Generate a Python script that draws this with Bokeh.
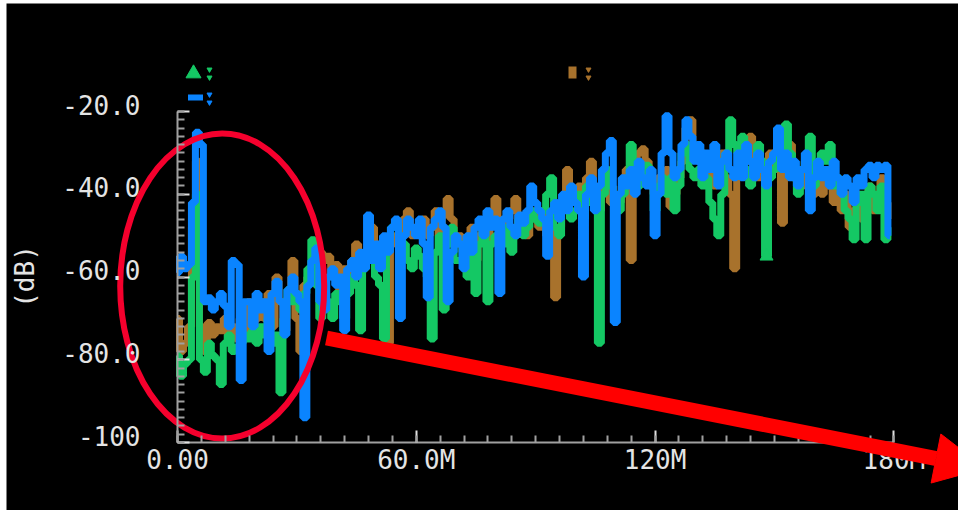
import numpy as np
from bokeh.plotting import figure
from bokeh.models import Range1d, FixedTicker, Arrow, NormalHead, Label
from bokeh.embed import file_html
from bokeh.resources import INLINE

# ---------------- data (dB vs frequency, 1 MHz steps) ----------------
freq_mhz = list(range(0, 180))

blue_db = [
    -59, -55, -58, -57, -42, -25, -28, -66, -65, -68, -66,
    -64, -67, -72, -56, -57, -85, -66, -66, -72, -64,
    -68, -66, -78, -64, -61, -66, -74, -63, -60, -64,
    -66, -94, -62, -56, -53, -66, -68, -60, -58, -62,
    -60, -73, -58, -56, -60, -54, -58, -45, -56, -52,
    -58, -50, -54, -48, -46, -70, -50, -46, -48, -50,
    -46, -52, -65, -48, -46, -44, -48, -66, -54, -50,
    -52, -58, -50, -54, -48, -46, -50, -44, -48, -46,
    -64, -46, -44, -48, -50, -45, -47, -44, -38, -42,
    -44, -46, -55, -44, -42, -46, -40, -44, -38, -42,
    -44, -60, -40, -36, -44, -38, -34, -30, -27, -71,
    -40, -36, -38, -34, -40, -32, -36, -38, -34, -50,
    -40, -30, -21, -30, -36, -34, -28, -22, -26, -32,
    -28, -36, -30, -34, -28, -38, -32, -30, -34, -36,
    -30, -36, -28, -32, -36, -30, -34, -38, -32, -30,
    -24, -34, -30, -36, -32, -38, -34, -30, -44, -36,
    -32, -36, -34, -38, -32, -36, -40, -36, -38, -42,
    -36, -38, -34, -33, -36, -33, -34, -33, -50,
]

brown_db = [
    -70, -78, -76, -72, -48, -32, -72, -78, -71, -74, -72,
    -73, -70, -74, -72, -75, -70, -74, -66, -72, -70,
    -66, -70, -64, -72, -60, -66, -73, -65, -56, -70,
    -78, -62, -60, -58, -56, -54, -56, -55, -60, -57,
    -64, -58, -62, -56, -52, -58, -55, -54, -48, -52,
    -56, -54, -76, -52, -50, -52, -46, -44, -50, -48,
    -50, -46, -50, -48, -44, -50, -45, -41, -46, -52,
    -50, -54, -52, -48, -56, -50, -47, -52, -46, -41,
    -48, -50, -46, -44, -41, -48, -46, -50, -46, -44,
    -48, -44, -50, -46, -65, -48, -44, -34, -40, -42,
    -38, -44, -36, -32, -40, -44, -38, -36, -42, -40,
    -42, -38, -34, -56, -36, -30, -29, -32, -36, -40,
    -36, -38, -34, -43, -40, -36, -32, -24, -22, -30,
    -32, -30, -36, -32, -38, -34, -30, -36, -40, -58,
    -34, -28, -32, -26, -34, -36, -32, -38, -30, -34,
    -32, -47, -30, -28, -36, -34, -38, -32, -36, -40,
    -36, -40, -34, -38, -42, -38, -44, -40, -48, -44,
    -40, -46, -42, -38, -44, -40, -36, -42, -46,
]

green_db = [
    -79, -84, -81, -80, -60, -40, -80, -83, -76, -79, -80,
    -86, -76, -74, -78, -77, -76, -74, -75, -73, -76,
    -72, -74, -70, -76, -74, -88, -70, -63, -66, -64,
    -68, -64, -58, -51, -62, -70, -64, -66, -70, -64,
    -66, -70, -64, -60, -62, -73, -58, -56, -54, -60,
    -62, -75, -52, -48, -47, -50, -52, -56, -58, -53,
    -55, -58, -60, -75, -54, -50, -68, -52, -48, -56,
    -56, -52, -60, -55, -64, -52, -48, -66, -52, -50,
    -50, -52, -48, -54, -50, -46, -50, -48, -44, -46,
    -47, -44, -40, -36, -48, -50, -42, -40, -46, -44,
    -40, -46, -38, -42, -40, -76, -40, -34, -38, -42,
    -44, -40, -36, -28, -34, -38, -36, -33, -38, -44,
    -38, -36, -40, -36, -44, -38, -30, -28, -34, -36,
    -34, -38, -36, -42, -46, -50, -40, -30, -22, -28,
    -30, -26, -34, -38, -36, -28, -32, -55, -36, -34,
    -30, -34, -23, -30, -36, -40, -34, -32, -26, -38,
    -34, -30, -32, -28, -38, -36, -40, -44, -46, -51,
    -42, -40, -51, -38, -40, -44, -38, -51, -48,
]

x_tick_mhz = [0, 60, 120, 180]
x_tick_labels = ["0.00", "60.0M", "120M", "180M"]
y_tick_vals = [-100, -80, -60, -40, -20]
y_tick_labels = ["-100", "-80.0", "-60.0", "-40.0", "-20.0"]
marker_mhz = 148  # green trace marker (triangle)

# ---------------- styling / geometry ----------------
GREEN = "#14c864"
BROWN = "#a8722c"
BLUE = "#0a84ff"
RED = "#ff0000"
ELL_RED = "#f5002d"
TXT = "#e4e4e4"
AX = "#a0a0a0"
FONT = "DejaVu Sans Mono"

MARGIN_L, MARGIN_T = 6, 3           # white strip left / top, as in the screenshot
W, H = 958 - MARGIN_L, 510 - MARGIN_T
AXIS_X, AXIS_Y = 177, 442           # picture position of the axes corner
PX_PER_MHZ = 3.98
PX_PER_DB = 4.1375


def pix(px, py):
    """picture position -> data coordinates"""
    return ((np.asarray(px, dtype=float) - AXIS_X) / PX_PER_MHZ * 1e6,
            -100 + (AXIS_Y - np.asarray(py, dtype=float)) / PX_PER_DB)


x0, y_top = pix(MARGIN_L, MARGIN_T)
x1, y_bot = pix(MARGIN_L + W, MARGIN_T + H)

# the frame fills the whole canvas; axes sit at fixed data locations inside it
p = figure(width=W, height=H,
           x_range=Range1d(float(x0), float(x1)), y_range=Range1d(float(y_bot), float(y_top)),
           output_backend="svg", toolbar_location=None,
           min_border_left=0, min_border_right=0, min_border_top=0, min_border_bottom=0,
           background_fill_color="black", border_fill_color="black",
           outline_line_color=None)
p.margin = (MARGIN_T, 0, 0, MARGIN_L)
p.xgrid.visible = False
p.ygrid.visible = False

x_ticks = [v * 1e6 for v in x_tick_mhz]
p.xaxis.ticker = FixedTicker(ticks=x_ticks,
                             minor_ticks=[m * 1e6 for m in range(0, 181, 6)])
p.xaxis.major_label_overrides = {t: l for t, l in zip(x_ticks, x_tick_labels)}
p.xaxis.bounds = (0, 180e6)
p.xaxis.fixed_location = -100

p.yaxis.ticker = FixedTicker(ticks=y_tick_vals, minor_ticks=list(range(-100, -19, 2)))
p.yaxis.bounds = (-100, -20)
p.yaxis.fixed_location = 0

for ax in (p.xaxis[0], p.yaxis[0]):
    ax.axis_line_color = AX
    ax.axis_line_width = 2
    ax.major_tick_in = 12
    ax.major_tick_out = 0
    ax.minor_tick_in = 7
    ax.minor_tick_out = 0
    ax.major_tick_line_color = "#e0e0e0"
    ax.major_tick_line_width = 2
    ax.minor_tick_line_color = AX
    ax.minor_tick_line_width = 2
    ax.major_label_text_color = TXT
    ax.major_label_text_font = FONT
    ax.major_label_text_font_size = "26px"
p.xaxis.major_label_standoff = 2
# the y tick labels of this viewer sit a little above their ticks: drawn as labels
p.yaxis.major_label_text_color = None
lab_x = float(pix(140, 0)[0])
for v, t in zip(y_tick_vals, y_tick_labels):
    p.add_layout(Label(x=lab_x, y=v, text=t, text_align="right", text_baseline="middle",
                       y_offset=7, text_font=FONT, text_font_size="26px", text_color=TXT))

# y axis title
tx, ty = pix(24, 276)
p.add_layout(Label(x=float(tx), y=float(ty), text="(dB)", angle=90, angle_units="deg",
                   text_align="center", text_baseline="middle",
                   text_font=FONT, text_font_size="26px", text_color=TXT))

hz = [f * 1e6 for f in freq_mhz]
p.step(hz, brown_db, mode="center", line_color=BROWN, line_width=7)
p.step(hz, green_db, mode="center", line_color=GREEN, line_width=7)
p.step(hz, blue_db, mode="center", line_color=BLUE, line_width=7)

# trace marker on the green trace
p.scatter([marker_mhz * 1e6], [green_db[marker_mhz]], marker="triangle", size=13,
          fill_color=GREEN, line_color=GREEN)

# trace legend icons (top)
gx, gy = pix(193, 73)
p.scatter([gx], [gy], marker="triangle", size=15, fill_color=GREEN, line_color=GREEN)
bx, by = pix(195, 97)
p.rect([bx], [by], width=15, height=6, width_units="screen", height_units="screen",
       fill_color=BLUE, line_color=None)
rx, ry = pix(572, 72)
p.rect([rx], [ry], width=8, height=12, width_units="screen", height_units="screen",
       fill_color=BROWN, line_color=None)
for (px, py, col) in [(209, 69, GREEN), (209, 77, GREEN), (209, 94, BLUE), (209, 102, BLUE),
                      (588, 69, BROWN), (588, 77, BROWN)]:
    mx, my = pix(px, py)
    p.scatter([mx], [my], marker="inverted_triangle", size=5, fill_color=col, line_color=col)

# ---------------- red hand-drawn highlight: ellipse + arrow ----------------
ex, ey = pix(221.7, 285.5)
p.ellipse([ex], [ey], width=204, height=305, width_units="screen", height_units="screen",
          fill_color=None, line_color=ELL_RED, line_width=6)

tail = np.array([326.0, 337.5])
back = np.array([935.5, 458.0])
d = (back - tail) / np.linalg.norm(back - tail)
tip = back + 50 * d
sx0, sy0 = pix(tail[0], tail[1])
sx1, sy1 = pix(tip[0], tip[1])
p.add_layout(Arrow(end=NormalHead(size=50, fill_color=RED, line_color=RED),
                   x_start=float(sx0), y_start=float(sy0),
                   x_end=float(sx1), y_end=float(sy1), line_color=RED, line_width=15))

open("out.html", "w").write(file_html(p, INLINE))
